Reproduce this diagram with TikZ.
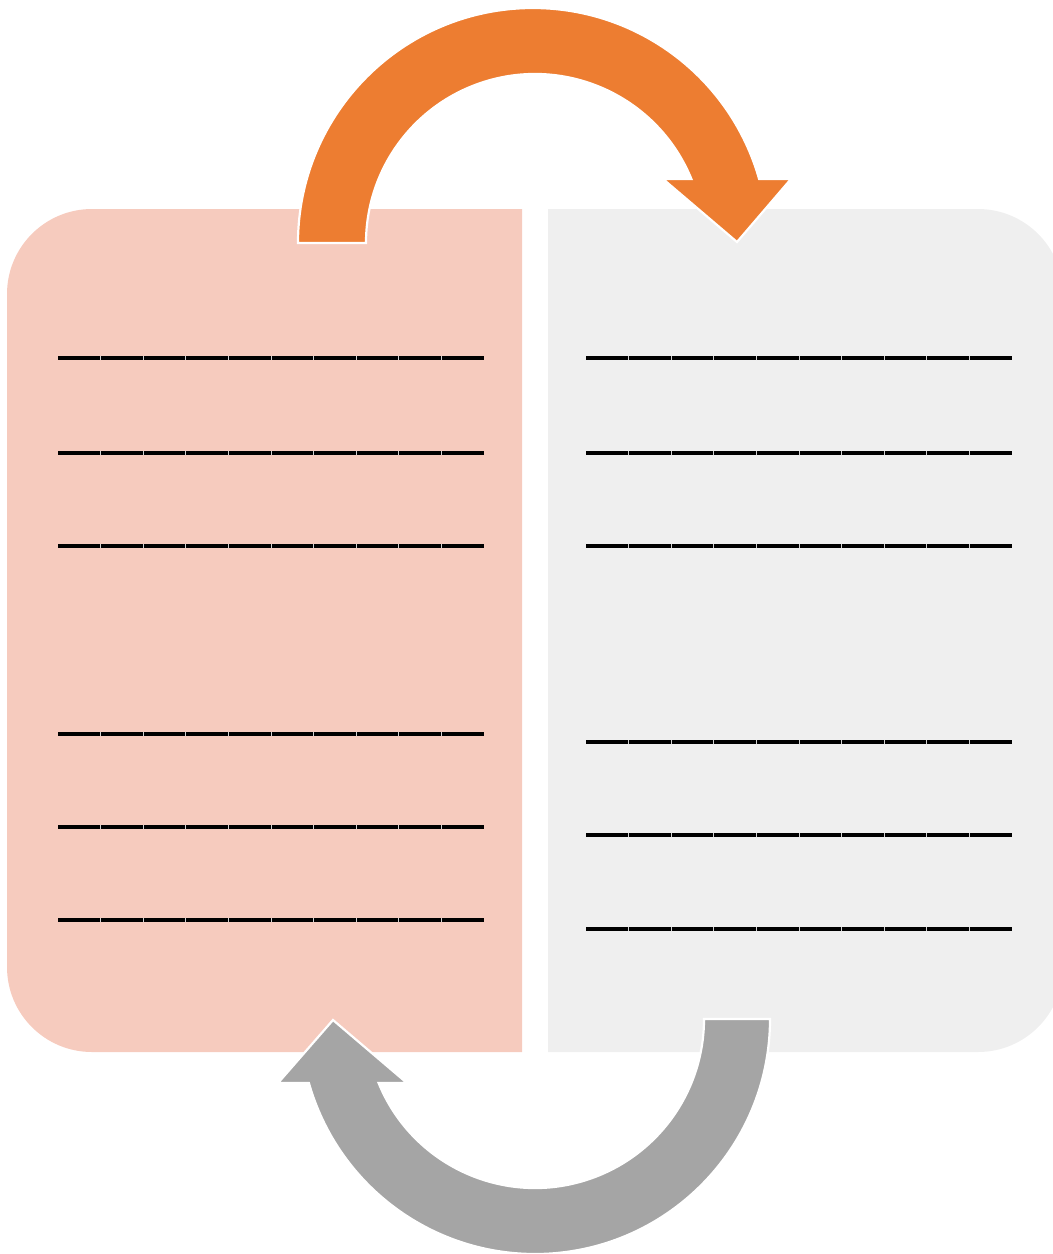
\documentclass[tikz,border=0pt]{standalone}
\definecolor{peach}{HTML}{F6CBBE}
\definecolor{lightgr}{HTML}{EFEFEF}
\definecolor{orng}{HTML}{ED7D31}
\definecolor{midgr}{HTML}{A5A5A5}
\tikzset{
  rule/.style={line width=4.6pt, black, line cap=butt},
  gapmark/.style={line width=0.8pt, draw=gray!35},
  arrowshape/.style={draw=white, line width=2.2pt, line join=miter},
}
\begin{document}
\begin{tikzpicture}[x=1pt,y=1pt]
\useasboundingbox (0,0) rectangle (1053,-1254);
\clip (0,0) rectangle (1053,-1254);
% left panel
\fill[peach] (522,-209) -- (92,-209) arc[start angle=90,end angle=180,radius=85pt]
  -- (7,-967) arc[start angle=180,end angle=270,radius=85pt] -- (522,-1052) -- cycle;
% right panel
\fill[lightgr] (548,-209) -- (978,-209) arc[start angle=90,end angle=0,radius=85pt]
  -- (1063,-967) arc[start angle=0,end angle=-90,radius=85pt] -- (548,-1052) -- cycle;
% rules
\foreach \xs/\ylist in {58/{358,453,546,734,827,920},586/{358,453,546,742,835,929}}{
  \foreach \yy in \ylist{
    \draw[rule] (\xs,-\yy) -- ({\xs+426},-\yy);
    \foreach \i in {1,...,9}{
      \draw[gapmark] ({\xs+\i*42.6},{-\yy-2.3}) -- ({\xs+\i*42.6},{-\yy+2.3});
    }
  }
}
% orange arrow
\filldraw[orng, arrowshape] (298,-243) arc[start angle=180,end angle=15.8,radius=235pt]
  -- (791,-179) -- (737,-242) -- (663,-179) -- (691.4,-179)
  arc[start angle=22.25,end angle=180,radius=169pt] -- cycle;
% gray arrow
\filldraw[midgr, arrowshape] (770,-1019) arc[start angle=0,end angle=-164.2,radius=235pt]
  -- (278,-1083) -- (333,-1020) -- (407,-1083) -- (378.6,-1083)
  arc[start angle=-157.75,end angle=0,radius=169pt] -- cycle;
\end{tikzpicture}
\end{document}
